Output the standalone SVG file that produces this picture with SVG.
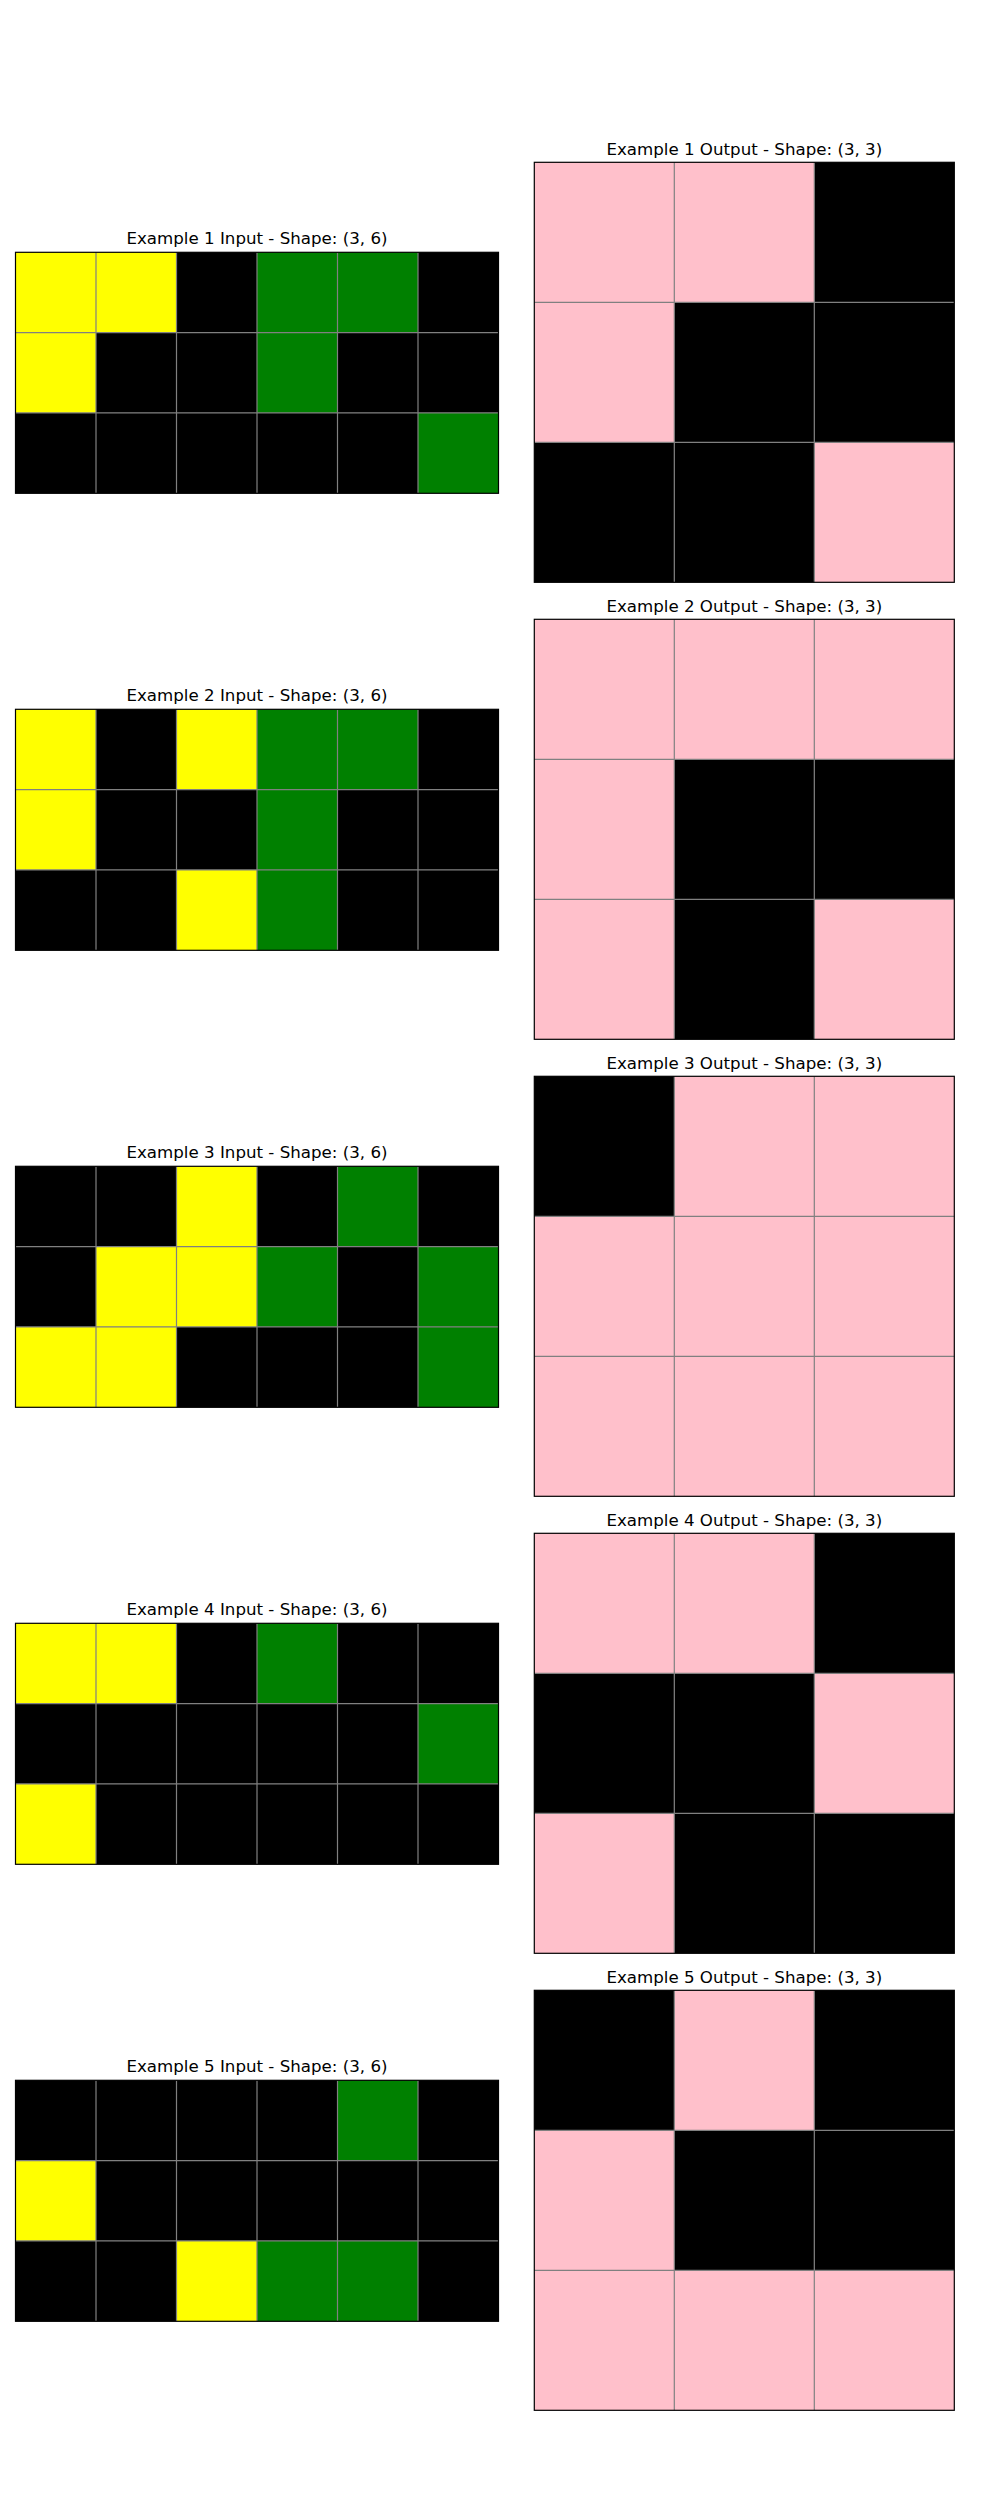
<svg xmlns="http://www.w3.org/2000/svg" width="1000" height="2500" viewBox="0 0 1000 2500">
<style>
.t{font-family:"DejaVu Sans",sans-serif;font-size:16.67px;fill:#000;text-anchor:middle}
.Y{fill:#FFFF00}.G{fill:#008000}.K{fill:#000000}.P{fill:#FFC0CB}
.gl{stroke:#808080;stroke-width:1.2;fill:none}
.bd{stroke:#000;stroke-width:1.2;fill:none}
</style>
<rect width="1000" height="2500" fill="#fff"/>
<defs>
<path id="gin" class="gl" d="M96 0V241M176.5 0V241M257 0V241M337.5 0V241M418 0V241M15.5 80.33H498.5M15.5 160.67H498.5"/>
<path id="gout" class="gl" d="M674.3 0V420M814.3 0V420M534.3 140H954.3M534.3 280H954.3"/>
</defs>
<g id="ex1-input">
<text class="t" x="257" y="243.5">Example 1 Input - Shape: (3, 6)</text>
<g transform="translate(0,252.3)">
<rect class="Y" x="15.5" y="0" width="80.5" height="80.33"/><rect class="Y" x="96" y="0" width="80.5" height="80.33"/><rect class="K" x="176.5" y="0" width="80.5" height="80.33"/><rect class="G" x="257" y="0" width="80.5" height="80.33"/><rect class="G" x="337.5" y="0" width="80.5" height="80.33"/><rect class="K" x="418" y="0" width="80.5" height="80.33"/>
<rect class="Y" x="15.5" y="80.33" width="80.5" height="80.33"/><rect class="K" x="96" y="80.33" width="80.5" height="80.33"/><rect class="K" x="176.5" y="80.33" width="80.5" height="80.33"/><rect class="G" x="257" y="80.33" width="80.5" height="80.33"/><rect class="K" x="337.5" y="80.33" width="80.5" height="80.33"/><rect class="K" x="418" y="80.33" width="80.5" height="80.33"/>
<rect class="K" x="15.5" y="160.67" width="80.5" height="80.33"/><rect class="K" x="96" y="160.67" width="80.5" height="80.33"/><rect class="K" x="176.5" y="160.67" width="80.5" height="80.33"/><rect class="K" x="257" y="160.67" width="80.5" height="80.33"/><rect class="K" x="337.5" y="160.67" width="80.5" height="80.33"/><rect class="G" x="418" y="160.67" width="80.5" height="80.33"/>
<use href="#gin"/><rect class="bd" x="15.5" y="0" width="483" height="241"/>
</g>
</g>
<g id="ex1-output">
<text class="t" x="744.3" y="154.5">Example 1 Output - Shape: (3, 3)</text>
<g transform="translate(0,162.3)">
<rect class="P" x="534.3" y="0" width="140" height="140"/><rect class="P" x="674.3" y="0" width="140" height="140"/><rect class="K" x="814.3" y="0" width="140" height="140"/>
<rect class="P" x="534.3" y="140" width="140" height="140"/><rect class="K" x="674.3" y="140" width="140" height="140"/><rect class="K" x="814.3" y="140" width="140" height="140"/>
<rect class="K" x="534.3" y="280" width="140" height="140"/><rect class="K" x="674.3" y="280" width="140" height="140"/><rect class="P" x="814.3" y="280" width="140" height="140"/>
<use href="#gout"/><rect class="bd" x="534.3" y="0" width="420" height="420"/>
</g>
</g>
<g id="ex2-input">
<text class="t" x="257" y="700.5">Example 2 Input - Shape: (3, 6)</text>
<g transform="translate(0,709.3)">
<rect class="Y" x="15.5" y="0" width="80.5" height="80.33"/><rect class="K" x="96" y="0" width="80.5" height="80.33"/><rect class="Y" x="176.5" y="0" width="80.5" height="80.33"/><rect class="G" x="257" y="0" width="80.5" height="80.33"/><rect class="G" x="337.5" y="0" width="80.5" height="80.33"/><rect class="K" x="418" y="0" width="80.5" height="80.33"/>
<rect class="Y" x="15.5" y="80.33" width="80.5" height="80.33"/><rect class="K" x="96" y="80.33" width="80.5" height="80.33"/><rect class="K" x="176.5" y="80.33" width="80.5" height="80.33"/><rect class="G" x="257" y="80.33" width="80.5" height="80.33"/><rect class="K" x="337.5" y="80.33" width="80.5" height="80.33"/><rect class="K" x="418" y="80.33" width="80.5" height="80.33"/>
<rect class="K" x="15.5" y="160.67" width="80.5" height="80.33"/><rect class="K" x="96" y="160.67" width="80.5" height="80.33"/><rect class="Y" x="176.5" y="160.67" width="80.5" height="80.33"/><rect class="G" x="257" y="160.67" width="80.5" height="80.33"/><rect class="K" x="337.5" y="160.67" width="80.5" height="80.33"/><rect class="K" x="418" y="160.67" width="80.5" height="80.33"/>
<use href="#gin"/><rect class="bd" x="15.5" y="0" width="483" height="241"/>
</g>
</g>
<g id="ex2-output">
<text class="t" x="744.3" y="611.5">Example 2 Output - Shape: (3, 3)</text>
<g transform="translate(0,619.3)">
<rect class="P" x="534.3" y="0" width="140" height="140"/><rect class="P" x="674.3" y="0" width="140" height="140"/><rect class="P" x="814.3" y="0" width="140" height="140"/>
<rect class="P" x="534.3" y="140" width="140" height="140"/><rect class="K" x="674.3" y="140" width="140" height="140"/><rect class="K" x="814.3" y="140" width="140" height="140"/>
<rect class="P" x="534.3" y="280" width="140" height="140"/><rect class="K" x="674.3" y="280" width="140" height="140"/><rect class="P" x="814.3" y="280" width="140" height="140"/>
<use href="#gout"/><rect class="bd" x="534.3" y="0" width="420" height="420"/>
</g>
</g>
<g id="ex3-input">
<text class="t" x="257" y="1157.5">Example 3 Input - Shape: (3, 6)</text>
<g transform="translate(0,1166.3)">
<rect class="K" x="15.5" y="0" width="80.5" height="80.33"/><rect class="K" x="96" y="0" width="80.5" height="80.33"/><rect class="Y" x="176.5" y="0" width="80.5" height="80.33"/><rect class="K" x="257" y="0" width="80.5" height="80.33"/><rect class="G" x="337.5" y="0" width="80.5" height="80.33"/><rect class="K" x="418" y="0" width="80.5" height="80.33"/>
<rect class="K" x="15.5" y="80.33" width="80.5" height="80.33"/><rect class="Y" x="96" y="80.33" width="80.5" height="80.33"/><rect class="Y" x="176.5" y="80.33" width="80.5" height="80.33"/><rect class="G" x="257" y="80.33" width="80.5" height="80.33"/><rect class="K" x="337.5" y="80.33" width="80.5" height="80.33"/><rect class="G" x="418" y="80.33" width="80.5" height="80.33"/>
<rect class="Y" x="15.5" y="160.67" width="80.5" height="80.33"/><rect class="Y" x="96" y="160.67" width="80.5" height="80.33"/><rect class="K" x="176.5" y="160.67" width="80.5" height="80.33"/><rect class="K" x="257" y="160.67" width="80.5" height="80.33"/><rect class="K" x="337.5" y="160.67" width="80.5" height="80.33"/><rect class="G" x="418" y="160.67" width="80.5" height="80.33"/>
<use href="#gin"/><rect class="bd" x="15.5" y="0" width="483" height="241"/>
</g>
</g>
<g id="ex3-output">
<text class="t" x="744.3" y="1068.5">Example 3 Output - Shape: (3, 3)</text>
<g transform="translate(0,1076.3)">
<rect class="K" x="534.3" y="0" width="140" height="140"/><rect class="P" x="674.3" y="0" width="140" height="140"/><rect class="P" x="814.3" y="0" width="140" height="140"/>
<rect class="P" x="534.3" y="140" width="140" height="140"/><rect class="P" x="674.3" y="140" width="140" height="140"/><rect class="P" x="814.3" y="140" width="140" height="140"/>
<rect class="P" x="534.3" y="280" width="140" height="140"/><rect class="P" x="674.3" y="280" width="140" height="140"/><rect class="P" x="814.3" y="280" width="140" height="140"/>
<use href="#gout"/><rect class="bd" x="534.3" y="0" width="420" height="420"/>
</g>
</g>
<g id="ex4-input">
<text class="t" x="257" y="1614.5">Example 4 Input - Shape: (3, 6)</text>
<g transform="translate(0,1623.3)">
<rect class="Y" x="15.5" y="0" width="80.5" height="80.33"/><rect class="Y" x="96" y="0" width="80.5" height="80.33"/><rect class="K" x="176.5" y="0" width="80.5" height="80.33"/><rect class="G" x="257" y="0" width="80.5" height="80.33"/><rect class="K" x="337.5" y="0" width="80.5" height="80.33"/><rect class="K" x="418" y="0" width="80.5" height="80.33"/>
<rect class="K" x="15.5" y="80.33" width="80.5" height="80.33"/><rect class="K" x="96" y="80.33" width="80.5" height="80.33"/><rect class="K" x="176.5" y="80.33" width="80.5" height="80.33"/><rect class="K" x="257" y="80.33" width="80.5" height="80.33"/><rect class="K" x="337.5" y="80.33" width="80.5" height="80.33"/><rect class="G" x="418" y="80.33" width="80.5" height="80.33"/>
<rect class="Y" x="15.5" y="160.67" width="80.5" height="80.33"/><rect class="K" x="96" y="160.67" width="80.5" height="80.33"/><rect class="K" x="176.5" y="160.67" width="80.5" height="80.33"/><rect class="K" x="257" y="160.67" width="80.5" height="80.33"/><rect class="K" x="337.5" y="160.67" width="80.5" height="80.33"/><rect class="K" x="418" y="160.67" width="80.5" height="80.33"/>
<use href="#gin"/><rect class="bd" x="15.5" y="0" width="483" height="241"/>
</g>
</g>
<g id="ex4-output">
<text class="t" x="744.3" y="1525.5">Example 4 Output - Shape: (3, 3)</text>
<g transform="translate(0,1533.3)">
<rect class="P" x="534.3" y="0" width="140" height="140"/><rect class="P" x="674.3" y="0" width="140" height="140"/><rect class="K" x="814.3" y="0" width="140" height="140"/>
<rect class="K" x="534.3" y="140" width="140" height="140"/><rect class="K" x="674.3" y="140" width="140" height="140"/><rect class="P" x="814.3" y="140" width="140" height="140"/>
<rect class="P" x="534.3" y="280" width="140" height="140"/><rect class="K" x="674.3" y="280" width="140" height="140"/><rect class="K" x="814.3" y="280" width="140" height="140"/>
<use href="#gout"/><rect class="bd" x="534.3" y="0" width="420" height="420"/>
</g>
</g>
<g id="ex5-input">
<text class="t" x="257" y="2071.5">Example 5 Input - Shape: (3, 6)</text>
<g transform="translate(0,2080.3)">
<rect class="K" x="15.5" y="0" width="80.5" height="80.33"/><rect class="K" x="96" y="0" width="80.5" height="80.33"/><rect class="K" x="176.5" y="0" width="80.5" height="80.33"/><rect class="K" x="257" y="0" width="80.5" height="80.33"/><rect class="G" x="337.5" y="0" width="80.5" height="80.33"/><rect class="K" x="418" y="0" width="80.5" height="80.33"/>
<rect class="Y" x="15.5" y="80.33" width="80.5" height="80.33"/><rect class="K" x="96" y="80.33" width="80.5" height="80.33"/><rect class="K" x="176.5" y="80.33" width="80.5" height="80.33"/><rect class="K" x="257" y="80.33" width="80.5" height="80.33"/><rect class="K" x="337.5" y="80.33" width="80.5" height="80.33"/><rect class="K" x="418" y="80.33" width="80.5" height="80.33"/>
<rect class="K" x="15.5" y="160.67" width="80.5" height="80.33"/><rect class="K" x="96" y="160.67" width="80.5" height="80.33"/><rect class="Y" x="176.5" y="160.67" width="80.5" height="80.33"/><rect class="G" x="257" y="160.67" width="80.5" height="80.33"/><rect class="G" x="337.5" y="160.67" width="80.5" height="80.33"/><rect class="K" x="418" y="160.67" width="80.5" height="80.33"/>
<use href="#gin"/><rect class="bd" x="15.5" y="0" width="483" height="241"/>
</g>
</g>
<g id="ex5-output">
<text class="t" x="744.3" y="1982.5">Example 5 Output - Shape: (3, 3)</text>
<g transform="translate(0,1990.3)">
<rect class="K" x="534.3" y="0" width="140" height="140"/><rect class="P" x="674.3" y="0" width="140" height="140"/><rect class="K" x="814.3" y="0" width="140" height="140"/>
<rect class="P" x="534.3" y="140" width="140" height="140"/><rect class="K" x="674.3" y="140" width="140" height="140"/><rect class="K" x="814.3" y="140" width="140" height="140"/>
<rect class="P" x="534.3" y="280" width="140" height="140"/><rect class="P" x="674.3" y="280" width="140" height="140"/><rect class="P" x="814.3" y="280" width="140" height="140"/>
<use href="#gout"/><rect class="bd" x="534.3" y="0" width="420" height="420"/>
</g>
</g>
<g id="connectors"/>
</svg>
